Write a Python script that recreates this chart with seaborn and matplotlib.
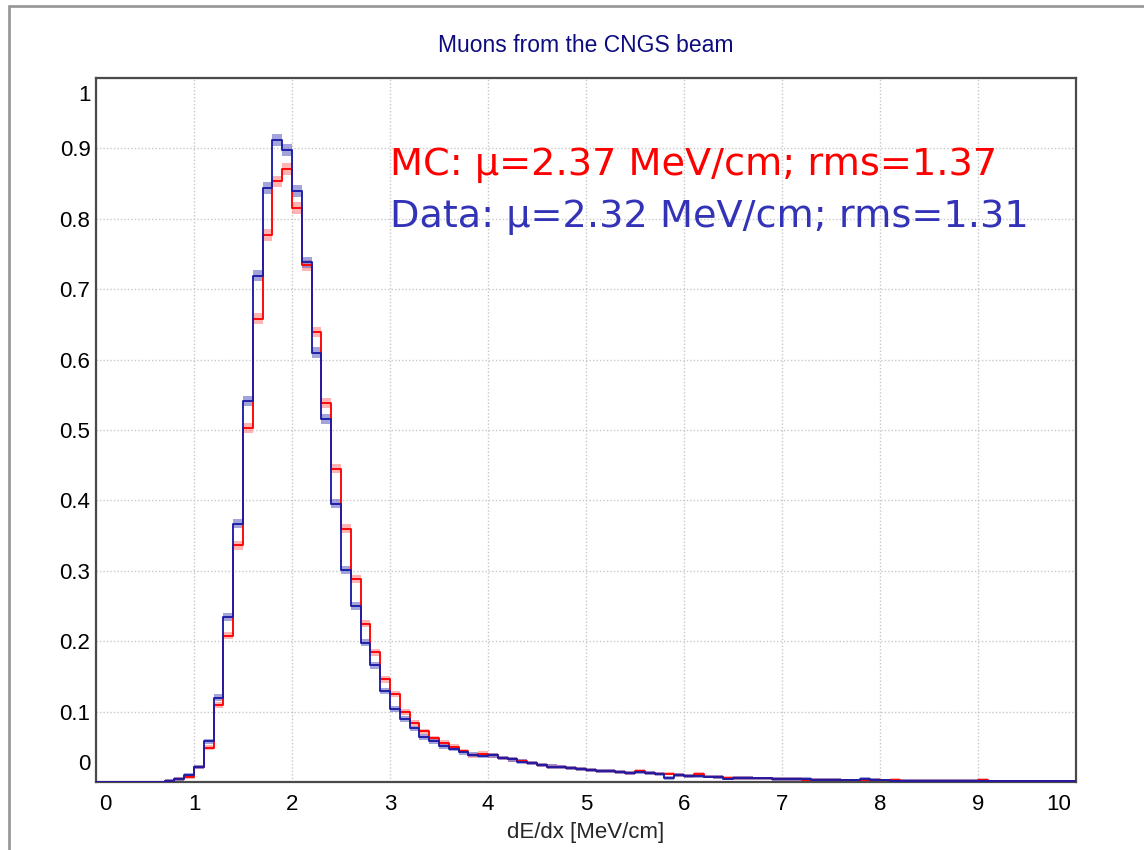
import numpy as np
import pandas as pd
import matplotlib
matplotlib.use("Agg")
import matplotlib.pyplot as plt
import matplotlib.transforms as mtransforms
from matplotlib.lines import Line2D
import seaborn as sns

# ---------------- data ----------------
bin_edges = [round(0.1 * i, 1) for i in range(101)]  # 0.0 .. 10.0
x_ticks = [0, 1, 2, 3, 4, 5, 6, 7, 8, 9, 10]
y_ticks = [0, 0.1, 0.2, 0.3, 0.4, 0.5, 0.6, 0.7, 0.8, 0.9, 1.0]
y_ticklabels = ["0", "0.1", "0.2", "0.3", "0.4", "0.5", "0.6", "0.7", "0.8", "0.9", "1"]

data_values = [
    0, 0, 0, 0, 0, 0, 0, 0.002, 0.004, 0.010,                      # 0.0-0.9
    0.021, 0.058, 0.120, 0.234, 0.367, 0.541, 0.719, 0.844, 0.912, 0.898,  # 1.0-1.9
    0.840, 0.738, 0.610, 0.515, 0.395, 0.301, 0.250, 0.198, 0.166, 0.129,  # 2.0-2.9
    0.104, 0.089, 0.076, 0.064, 0.058, 0.051, 0.047, 0.042, 0.039, 0.037,  # 3.0-3.9
    0.038, 0.034, 0.032, 0.029, 0.027, 0.024, 0.022, 0.021, 0.020, 0.018,  # 4.0-4.9
    0.017, 0.016, 0.016, 0.014, 0.013, 0.014, 0.013, 0.011, 0.006, 0.0095, # 5.0-5.9
    0.009, 0.008, 0.0076, 0.0067, 0.0048, 0.006, 0.0057, 0.005, 0.005, 0.0043,  # 6.0-6.9
    0.0043, 0.004, 0.004, 0.0033, 0.0033, 0.003, 0.0024, 0.0024, 0.0048, 0.003,  # 7.0-7.9
    0.0024, 0.0019, 0.002, 0.002, 0.0019, 0.002, 0.0019, 0.0019, 0.0014, 0.0014,  # 8.0-8.9
    0.0014, 0.001, 0.001, 0.001, 0.001, 0.001, 0.001, 0.001, 0.001, 0.001,        # 9.0-9.9
]

mc_values = [
    0, 0, 0, 0, 0, 0, 0, 0.002, 0.004, 0.007,                      # 0.0-0.9
    0.021, 0.049, 0.110, 0.208, 0.336, 0.503, 0.658, 0.777, 0.853, 0.871,  # 1.0-1.9
    0.815, 0.734, 0.639, 0.538, 0.445, 0.360, 0.288, 0.225, 0.184, 0.146,  # 2.0-2.9
    0.125, 0.100, 0.084, 0.072, 0.062, 0.056, 0.050, 0.044, 0.038, 0.040,  # 3.0-3.9
    0.038, 0.034, 0.032, 0.030, 0.027, 0.024, 0.022, 0.021, 0.020, 0.018,  # 4.0-4.9
    0.017, 0.016, 0.016, 0.014, 0.013, 0.015, 0.013, 0.012, 0.012, 0.0095, # 5.0-5.9
    0.009, 0.011, 0.0076, 0.0067, 0.006, 0.006, 0.0057, 0.005, 0.005, 0.0043,  # 6.0-6.9
    0.0043, 0.004, 0.003, 0.0033, 0.0033, 0.003, 0.0024, 0.0024, 0.0033, 0.003,  # 7.0-7.9
    0.0024, 0.003, 0.002, 0.002, 0.002, 0.002, 0.002, 0.002, 0.0019, 0.0019,      # 8.0-8.9
    0.003, 0.001, 0.001, 0.001, 0.001, 0.001, 0.001, 0.001, 0.001, 0.001,          # 9.0-9.9
]

title = "Muons from the CNGS beam"
x_label = "dE/dx [MeV/cm]"
mc_text = "MC: \u03bc=2.37 MeV/cm; rms=1.37"
data_text = "Data: \u03bc=2.32 MeV/cm; rms=1.31"

# ---------------- styling ----------------
sns.set_style("white")
plt.rcParams["font.family"] = ["Liberation Sans", "DejaVu Sans"]

edges = np.array(bin_edges)
centers = (edges[:-1] + edges[1:]) / 2
df = pd.DataFrame({"x": centers, "mc": mc_values, "data": data_values})

fig = plt.figure(figsize=(11.44, 8.5), dpi=100)
ax = fig.add_axes([96 / 1144, 68 / 850, 980 / 1144, 704 / 850])

# grid
ax.set_axisbelow(True)
ax.grid(True, color="#c8c8c8", linestyle=(0, (1, 1.5)), linewidth=1.0)

def band(values, color, alpha):
    v = np.asarray(values, dtype=float)
    err = 0.002 + 0.007 * np.sqrt(v)
    lo = np.append(v - err, (v - err)[-1])
    hi = np.append(v + err, (v + err)[-1])
    ax.fill_between(edges, lo, hi, step="post", color=color, alpha=alpha,
                    linewidth=0, zorder=2)

band(mc_values, "#ff5a5a", 0.45)
sns.histplot(data=df, x="x", weights="mc", bins=bin_edges, element="step",
             fill=False, color="#ff0000", linewidth=1.35, ax=ax, zorder=3)
band(data_values, "#5a5ac0", 0.55)
sns.histplot(data=df, x="x", weights="data", bins=bin_edges, element="step",
             fill=False, color="#1c1ca6", linewidth=1.35, ax=ax, zorder=4)

ax.set_xlim(0, 10)
ax.set_ylim(0, 1)
ax.set_xticks(x_ticks)
ax.set_xticklabels([str(t) for t in x_ticks])
ax.set_yticks(y_ticks)
ax.set_yticklabels(y_ticklabels)
ax.tick_params(axis="both", length=0, labelsize=16, colors="black", pad=9)
ax.tick_params(axis="y", pad=4)

# keep end labels inside the frame
xl = ax.get_xticklabels()
xl[0].set_ha("left")
xl[-1].set_ha("right")
off = lambda dx, dy: mtransforms.ScaledTranslation(dx / 100, dy / 100, fig.dpi_scale_trans)
xl[0].set_transform(xl[0].get_transform() + off(3, 0))
xl[-1].set_transform(xl[-1].get_transform() + off(-5, 0))
yl = ax.get_yticklabels()
yl[0].set_va("bottom")
yl[-1].set_va("top")
yl[0].set_transform(yl[0].get_transform() + off(0, 7))
yl[-1].set_transform(yl[-1].get_transform() + off(0, -7))

ax.set_xlabel(x_label, fontsize=16, labelpad=5)
ax.set_ylabel("")
ax.set_title(title, fontsize=16.5, color="#0c0c80", pad=19)

for s in ax.spines.values():
    s.set_color("#4a4a4a")
    s.set_linewidth(1.6)

ax.text(0.3, 0.876, mc_text, transform=ax.transAxes, color="#ff0000",
        fontsize=27.5, family=["DejaVu Sans"], va="center", ha="left")
ax.text(0.3, 0.803, data_text, transform=ax.transAxes, color="#3333b8",
        fontsize=27.5, family=["DejaVu Sans"], va="center", ha="left")

# outer frame lines (left and top)
fig.add_artist(Line2D([9 / 1144, 9 / 1144], [0, 1 - 6 / 850], transform=fig.transFigure,
                      color="#999999", linewidth=2))
fig.add_artist(Line2D([9 / 1144, 1], [1 - 6 / 850, 1 - 6 / 850], transform=fig.transFigure,
                      color="#999999", linewidth=2))

fig.savefig("out.png", dpi=100)
